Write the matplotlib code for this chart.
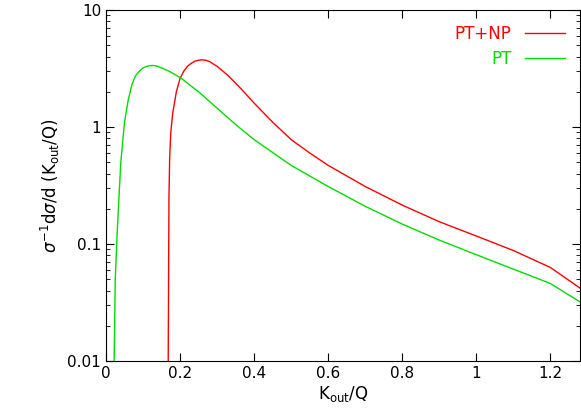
import matplotlib
matplotlib.use("Agg")
import matplotlib.pyplot as plt
import numpy as np

# PT+NP curve
x_np = [0.168, 0.169, 0.170, 0.172, 0.175, 0.18, 0.19, 0.20, 0.21, 0.22, 0.23, 0.24, 0.25, 0.26,
        0.27, 0.28, 0.30, 0.33, 0.36, 0.40, 0.45, 0.50, 0.55, 0.60, 0.70, 0.80, 0.90, 1.00,
        1.10, 1.20, 1.28]
y_np = [0.01, 0.05, 0.25, 0.55, 0.9, 1.3, 2.0, 2.6, 3.0, 3.3, 3.5, 3.65, 3.72, 3.75,
        3.72, 3.62, 3.3, 2.75, 2.2, 1.6, 1.1, 0.78, 0.60, 0.47, 0.31, 0.215, 0.155, 0.117,
        0.088, 0.063, 0.042]

# PT curve
x_pt = [0.022, 0.025, 0.03, 0.035, 0.04, 0.05, 0.06, 0.07, 0.08, 0.09, 0.10, 0.11, 0.12, 0.13,
        0.14, 0.15, 0.17, 0.20, 0.25, 0.30, 0.35, 0.40, 0.50, 0.60, 0.70, 0.80, 0.90, 1.00,
        1.10, 1.20, 1.28]
y_pt = [0.01, 0.05, 0.12, 0.25, 0.5, 1.1, 1.7, 2.3, 2.75, 3.0, 3.2, 3.3, 3.35, 3.35,
        3.3, 3.2, 3.0, 2.65, 2.0, 1.45, 1.05, 0.78, 0.47, 0.31, 0.21, 0.148, 0.108, 0.081,
        0.061, 0.046, 0.032]

fig = plt.figure(figsize=(5.81, 4.17), dpi=100)
ax = fig.add_axes([106/581, 56/417, 474/581, 351/417])

ax.plot(x_np, y_np, color='#ff0000', lw=1, label='PT+NP')
ax.plot(x_pt, y_pt, color='#00dd00', lw=1, label='PT')

ax.set_yscale('log')
ax.set_xlim(0, 1.28)
ax.set_ylim(0.01, 10)
ax.set_xticks([0, 0.2, 0.4, 0.6, 0.8, 1, 1.2])
ax.set_xticklabels(['0', '0.2', '0.4', '0.6', '0.8', '1', '1.2'])
ax.set_yticks([0.01, 0.1, 1, 10])
ax.set_yticklabels(['0.01', '0.1', '1', '10'])
ax.tick_params(which='both', direction='in', top=True, right=True, labelsize=11)
ax.tick_params(which='major', length=6)
ax.tick_params(which='minor', length=3)
ax.set_xlabel(r'K$_{\rm out}$/Q', fontsize=12, labelpad=2)
ax.set_ylabel(r'$\sigma^{-1}$d$\sigma$/d (K$_{\rm out}$/Q)', fontsize=12)

leg = ax.legend(loc='upper right', frameon=False, markerfirst=False, fontsize=12,
                handlelength=2.4, labelspacing=0.4)
for t, c in zip(leg.get_texts(), ['#ff0000', '#00dd00']):
    t.set_color(c)

fig.savefig('out.png', dpi=100)
